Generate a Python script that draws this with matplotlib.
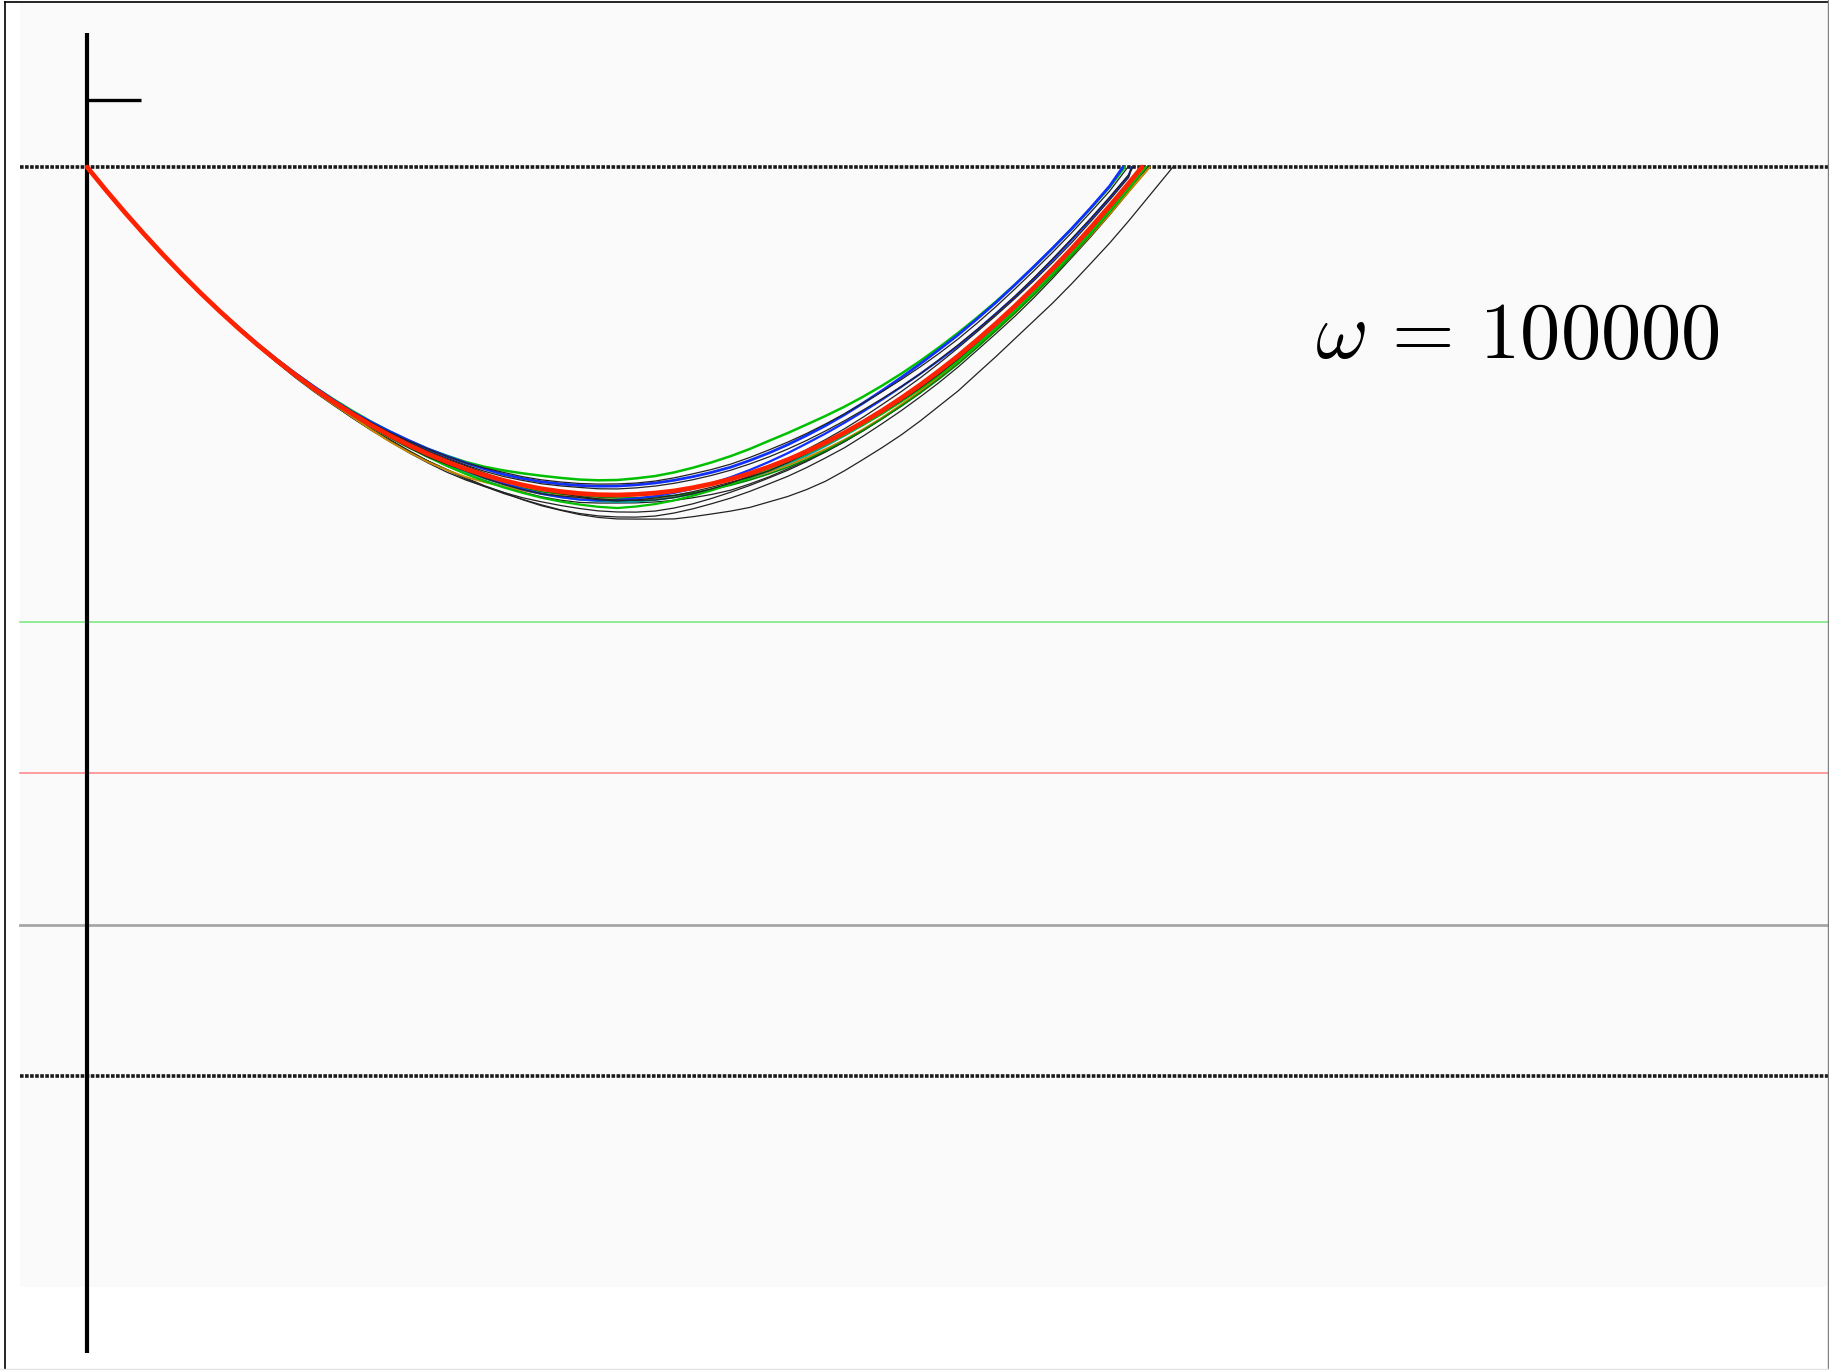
import numpy as np
import matplotlib
matplotlib.use("Agg")
import matplotlib.pyplot as plt
from matplotlib.patches import Rectangle
from matplotlib.lines import Line2D

plt.rcParams["mathtext.fontset"] = "cm"

# ---- data -------------------------------------------------------------
# sample times (step 0.125) of the simulated paths
t = [0.000, 0.125, 0.250, 0.375, 0.500, 0.625, 0.750, 0.875, 1.000, 1.125,
     1.250, 1.375, 1.500, 1.625, 1.750, 1.875, 2.000, 2.125, 2.250, 2.375,
     2.500, 2.625, 2.750, 2.875, 3.000, 3.125, 3.250, 3.375, 3.500, 3.625,
     3.750, 3.875, 4.000, 4.125, 4.250, 4.375, 4.500, 4.625, 4.750, 4.875,
     5.000, 5.125, 5.250, 5.375, 5.500, 5.625, 5.750, 5.875, 6.000, 6.125,
     6.250, 6.375, 6.500, 6.625, 6.750, 6.875]

# limiting (deterministic) trajectory
mean_path = [0.000, -0.153, -0.300, -0.441, -0.577, -0.707, -0.832, -0.951,
             -1.065, -1.173, -1.275, -1.372, -1.464, -1.549, -1.629, -1.704,
             -1.773, -1.836, -1.894, -1.946, -1.993, -2.034, -2.069, -2.099,
             -2.124, -2.142, -2.155, -2.163, -2.165, -2.161, -2.152, -2.138,
             -2.117, -2.091, -2.060, -2.023, -1.980, -1.932, -1.878, -1.819,
             -1.754, -1.683, -1.607, -1.525, -1.438, -1.345, -1.247, -1.142,
             -1.033, -0.918, -0.797, -0.671, -0.539, -0.401, -0.258, -0.109]
mean_exit = 6.964

# simulated paths: deviation from the limiting trajectory (in thousandths)
dev_black_1 = [0, 0, 0, 0, 0, -3, -7, -5, -7, -10,
               -13, -18, -20, -22, -26, -31, -33, -41, -46, -50,
               -59, -70, -79, -97, -112, -124, -139, -150, -158, -163,
               -172, -185, -191, -199, -211, -224, -231, -243, -251, -255,
               -251, -246, -244, -243, -238, -232, -231, -222, -218, -215,
               -218, -226, -231, -236, -244, -248]
dev_black_2 = [0, 0, 0, 0, 0, -2, 0, -4, -7, -5,
               -7, -10, -13, -17, -20, -22, -26, -36, -46, -55,
               -66, -75, -86, -95, -106, -121, -132, -140, -145, -150,
               -152, -146, -139, -131, -125, -118, -112, -110, -106, -101,
               -99, -92, -86, -83, -79, -77, -73, -68, -66, -67,
               -66, -62, -59, -60, -59, -57]
dev_black_3 = [0, 0, 0, -2, 0, -3, -7, -5, -7, -9,
               -13, -12, -13, -20, -26, -33, -40, -50, -59, -68,
               -73, -75, -79, -84, -86, -92, -99, -107, -112, -117,
               -119, -113, -106, -96, -86, -79, -73, -70, -66, -62,
               -59, -57, -53, -49, -46, -42, -40, -39, -40, -44,
               -46, -47, -46, -43, -40, -38]
dev_black_4 = [0, 0, 0, 0, 0, 2, 0, 3, 7, 5,
               7, 8, 7, 10, 13, 17, 20, 27, 33, 36,
               40, 47, 53, 55, 59, 63, 66, 70, 73, 75,
               79, 86, 92, 95, 99, 106, 112, 116, 119, 123,
               125, 127, 125, 122, 119, 115, 112, 111, 112, 113,
               112, 109, 106, 103, 99, 96]
dev_black_5 = [0, 0, 0, 0, 0, 0, 0, -3, 0, -4,
               -7, -5, -7, -9, -7, -11, -13, -17, -20, -16,
               -13, -20, -26, -31, -33, -29, -26, -33, -40, -37,
               -33, -30, -26, -22, -20, -24, -26, -19, -13, -9,
               -7, -10, -13, -17, -20, -21, -20, -16, -13, -9,
               -7, -10, -13, -14, -13, -12]
dev_black_6 = [0, 0, 0, 0, 0, 0, 0, -2, 0, -4,
               -7, -5, -7, -10, -13, -12, -13, -16, -20, -27,
               -33, -36, -40, -47, -53, -57, -59, -55, -53, -56,
               -59, -63, -66, -70, -73, -69, -66, -61, -59, -60,
               -59, -56, -53, -54, -53, -49, -46, -47, -46, -42,
               -40, -41, -40, -36, -33, -33]
dev_black_7 = [0, 0, 0, 0, 0, 0, 0, 0, 0, 3,
               7, 5, 7, 10, 13, 12, 13, 17, 20, 24,
               26, 25, 26, 30, 33, 37, 40, 39, 40, 43,
               46, 50, 53, 56, 59, 63, 66, 70, 73, 77,
               79, 80, 79, 76, 73, 74, 73, 69, 66, 65,
               66, 67, 66, 62, 59, 57]
dev_black_8 = [0, 0, 0, 0, 0, 0, 0, 0, 0, 0,
               0, -3, -7, -8, -7, 0, 7, 10, 13, 17,
               20, 14, 7, 0, -7, -13, -20, -27, -33, -40,
               -46, -44, -40, -33, -26, -17, -7, 3, 13, 20,
               26, 33, 40, 43, 46, 50, 53, 54, 53, 50,
               46, 43, 40, 41, 40, 39]
dev_blue_1 = [0, 0, 0, 0, 0, 2, 0, 3, 7, 6,
              7, 10, 13, 12, 13, 20, 26, 30, 33, 37,
              40, 41, 40, 43, 46, 50, 53, 56, 59, 63,
              66, 70, 73, 76, 79, 86, 92, 99, 106, 112,
              119, 126, 132, 136, 139, 140, 139, 139, 139, 140,
              139, 136, 132, 131, 132, 129]
dev_blue_2 = [0, 0, 0, 0, 0, 0, 0, 2, 0, 4,
              7, 6, 7, 10, 13, 17, 20, 17, 13, 7,
              0, -10, -20, -27, -33, -37, -40, -37, -33, -27,
              -20, -13, -7, 3, 13, 23, 33, 43, 53, 60,
              66, 70, 73, 74, 73, 70, 66, 66, 66, 62,
              59, 59, 59, 56, 53, 51]
dev_green_1 = [0, 0, 0, 0, 0, 0, 0, 3, 7, 5,
               7, 10, 13, 17, 20, 23, 26, 30, 33, 40,
               46, 55, 66, 77, 86, 90, 92, 95, 99, 106,
               112, 122, 132, 142, 152, 162, 172, 176, 178, 176,
               172, 168, 165, 161, 158, 155, 152, 148, 145, 142,
               139, 136, 132, 129, 125, 122]
dev_green_2 = [0, 0, 0, 0, 0, 0, 0, 0, 0, 0,
               0, -3, -7, -5, -7, -10, -13, -16, -20, -27,
               -33, -40, -46, -52, -59, -66, -73, -80, -86, -80,
               -73, -63, -53, -43, -33, -26, -20, -16, -13, -12,
               -13, -17, -20, -23, -26, -30, -33, -34, -33, -32,
               -33, -34, -33, -33, -33, -32]
dev_orange = [0, 0, 0, 0, 0, 0, 0, 0, 0, -3,
              -7, -10, -13, -16, -20, -30, -40, -47, -53, -55,
              -53, -46, -40, -36, -33, -29, -26, -29, -33, -37,
              -40, -41, -40, -36, -33, -32, -33, -37, -40, -43,
              -46, -47, -46, -43, -40, -39, -40, -43, -46, -47,
              -46, -45, -46, -50, -53, -54]
dev_teal = [0, 0, 0, 0, 0, 0, 0, 0, 0, 0,
            0, -3, -7, -6, -7, -10, -13, -12, -13, -17,
            -20, -23, -26, -30, -33, -37, -40, -43, -46, -47,
            -46, -43, -40, -37, -33, -29, -26, -25, -26, -23,
            -20, -19, -20, -21, -20, -23, -26, -27, -26, -25,
            -26, -23, -20, -21, -20, -19]
dev_dkgreen = [0, 0, 0, 0, 0, 0, 0, 0, 0, 0,
               0, 0, 0, -3, -7, -6, -7, -10, -13, -12,
               -13, -17, -20, -19, -20, -17, -13, -16, -20, -23,
               -26, -30, -33, -37, -40, -43, -46, -50, -53, -54,
               -53, -54, -53, -52, -53, -54, -53, -50, -46, -45,
               -46, -47, -46, -43, -40, -39]

# time at which each path returns to level 0
exit_times = {"black_1": 7.168, "black_2": 7.016, "black_3": 7.003,
              "black_4": 6.871, "black_5": 6.970, "black_6": 7.000,
              "black_7": 6.904, "black_8": 6.897, "blue_1": 6.838,
              "blue_2": 6.897, "green_1": 6.851, "green_2": 6.990,
              "orange": 7.016, "teal": 6.970, "dkgreen": 6.990}

# horizontal reference levels
level_top = 0.0
level_green = -3.0
level_red = -4.0
level_gray = -5.0
level_bottom = -6.0

# ---- figure -----------------------------------------------------------
W, H, DPI = 1829, 1370, 100
fig = plt.figure(figsize=(W / DPI, H / DPI), dpi=DPI)
fig.patch.set_facecolor("white")
ax = fig.add_axes([0, 0, 1, 1])
ax.set_axis_off()

scale = 151.5      # pixels per unit
x0_px, y0_px = 87, 167
ax.set_xlim(-x0_px / scale, (W - x0_px) / scale)
ax.set_ylim(-(H - y0_px) / scale, y0_px / scale)

# light panel behind the plot
left_u = (20 - x0_px) / scale
ax.add_patch(Rectangle((left_u, -(1287 - y0_px) / scale),
                       (W - x0_px) / scale - left_u + 1,
                       (1287 - 3) / scale,
                       facecolor="#fafafa", edgecolor="none", zorder=0))

xr = [left_u, (W - x0_px) / scale]
dotted = dict(color="#1a1a1a", lw=2.6, dashes=(1.0, 0.4), zorder=2)
ax.plot(xr, [level_top] * 2, **dotted)
ax.plot(xr, [level_bottom] * 2, **dotted)
ax.plot(xr, [level_green] * 2, color="#7fe87f", lw=1.2, zorder=2)
ax.plot(xr, [level_red] * 2, color="#ff8c8c", lw=1.2, zorder=2)
ax.plot(xr, [level_gray] * 2, color="#a6a6a6", lw=2.0, zorder=2)

# vertical axis with a single tick
ax.plot([0, 0], [(y0_px - 33) / scale, -(1353 - y0_px) / scale],
        color="black", lw=3.0, solid_capstyle="butt", zorder=3)
ax.plot([0, (141 - x0_px) / scale], [(y0_px - 100) / scale] * 2,
        color="black", lw=2.4, solid_capstyle="butt", zorder=3)

mean_arr = np.array(mean_path)
t_arr = np.array(t)


def draw_path(dev, key, color, lw, z):
    d = np.array(dev, dtype=float) / 1000.0
    assert d.size == t_arr.size, key
    y = mean_arr + d
    t_exit = exit_times[key]
    keep = (y < 0) & (t_arr < t_exit)
    keep[0] = True
    xs = np.append(t_arr[keep], t_exit)
    ys = np.append(y[keep], 0.0)
    ax.plot(xs, ys, color=color, lw=lw, zorder=z,
            solid_joinstyle="round", solid_capstyle="round")


draw_path(dev_black_1, "black_1", "#222222", 0.9, 4)
draw_path(dev_black_2, "black_2", "#222222", 0.9, 4)
draw_path(dev_black_3, "black_3", "#222222", 0.9, 4)
draw_path(dev_black_6, "black_6", "#222222", 0.9, 4)
draw_path(dev_orange, "orange", "#c88a00", 1.4, 4)
draw_path(dev_teal, "teal", "#00a0a0", 1.4, 4)
draw_path(dev_dkgreen, "dkgreen", "#008a00", 1.2, 4)
draw_path(dev_green_2, "green_2", "#00c000", 1.6, 5)
draw_path(dev_blue_2, "blue_2", "#1030ff", 1.6, 5)
draw_path(dev_green_1, "green_1", "#00c000", 1.8, 5)
draw_path(dev_blue_1, "blue_1", "#1030ff", 2.0, 5)
draw_path(dev_black_4, "black_4", "#222222", 0.9, 6)
draw_path(dev_black_5, "black_5", "#222222", 0.9, 6)
draw_path(dev_black_7, "black_7", "#222222", 0.9, 6)
draw_path(dev_black_8, "black_8", "#222222", 0.9, 6)

ax.plot(np.append(t_arr, mean_exit), np.append(mean_arr, 0.0),
        color="#ff2200", lw=3.4, zorder=7, solid_capstyle="round",
        solid_joinstyle="round")

ax.text((1315 - x0_px) / scale, -(358 - y0_px) / scale,
        r"$\omega\, =\, 100000$", fontsize=58, color="black",
        ha="left", va="baseline", zorder=8)

# outer frame
fig.add_artist(Line2D([4.5 / W, 4.5 / W], [0, 1 - 1.5 / H], color="black", lw=1.2))
fig.add_artist(Line2D([4.5 / W, 1], [1 - 1.5 / H, 1 - 1.5 / H], color="black", lw=1.2))
fig.add_artist(Line2D([1 - 1.5 / W, 1 - 1.5 / W], [0, 1], color="#808080", lw=1.0))
fig.add_artist(Line2D([0, 1], [1.5 / H, 1.5 / H], color="#e4e4e4", lw=1.0))

fig.savefig("out.png", dpi=DPI, facecolor="white")
